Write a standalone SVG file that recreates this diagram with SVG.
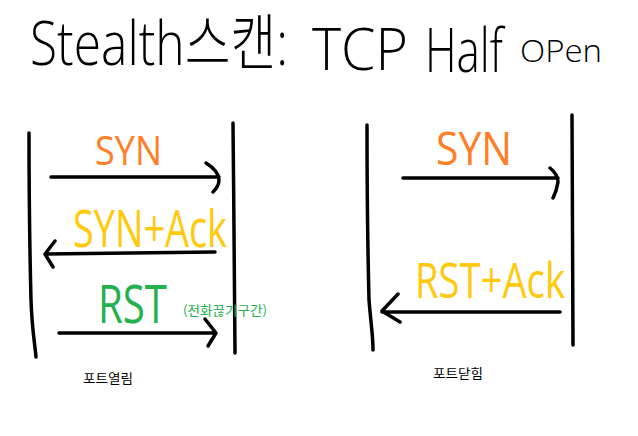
<svg xmlns="http://www.w3.org/2000/svg" width="638" height="436" viewBox="0 0 638 436">
<style>
.t{font-family:"Open Sans","Noto Sans CJK KR",sans-serif;font-weight:300;fill:#000}
.lbl{font-family:"Open Sans","Noto Sans CJK KR",sans-serif;font-weight:400}
.small{font-family:"Noto Sans CJK KR","Noto Sans",sans-serif;font-size:13px}
.ln{fill:none;stroke:#000;stroke-width:3.5;stroke-linecap:round;stroke-linejoin:round}
.org{fill:#FF7F27}.yel{fill:#FFC90E}.grn{fill:#22B14C}
</style>
<rect width="638" height="436" fill="#fff"/>
<g id="title">
<text class="t" transform="translate(30,65) scale(1,1.3)" font-size="47" textLength="258" lengthAdjust="spacingAndGlyphs">Stealth스캔:</text>
<text class="t" transform="translate(312,70) scale(1,1.1)" font-size="53" textLength="96" lengthAdjust="spacingAndGlyphs">TCP</text>
<text class="t" transform="translate(425,72) scale(1,1.5)" font-size="41" textLength="78" lengthAdjust="spacingAndGlyphs">Half</text>
<text class="t" transform="translate(520,62) scale(1,1.05)" font-size="30" textLength="82" lengthAdjust="spacingAndGlyphs">OPen</text>
</g>
<g id="open-client"><path class="ln" d="M29,133 C29,200 30,260 31,300 C32,330 35,345 36,357"/></g>
<g id="open-server"><path class="ln" d="M233,123 C234,200 234,280 235,353"/></g>
<g id="closed-client"><path class="ln" d="M367,125 C367,200 368,260 369,300 C371,325 373,335 373,350"/></g>
<g id="closed-server"><path class="ln" d="M572,115 C572,200 573,280 573,345"/></g>
<g id="connectors">
<path class="ln" d="M51,177 L219,177 M206,163 C214,168 219,174 219,180 C219,185 216,189 213,192"/>
<path class="ln" d="M215,252 L45,254 M55,241 L45,254 L53,267"/>
<path class="ln" d="M59,333 L215,333 M205,319 L216,333 L208,346"/>
<path class="ln" d="M403,178 L558,178 M550,168 C555,172 558,177 558,182 C557,189 555,194 553,198"/>
<path class="ln" d="M560,312 L382,312 M398,294 L382,311 L400,322"/>
</g>
<g id="labels">
<text class="lbl org" transform="translate(95,165) scale(1,1.1)" font-size="36" textLength="67" lengthAdjust="spacingAndGlyphs">SYN</text>
<text class="lbl yel" transform="translate(73,247) scale(1,1.35)" font-size="38" textLength="154" lengthAdjust="spacingAndGlyphs">SYN+Ack</text>
<text class="lbl grn" transform="translate(98,323) scale(1,1.33)" font-size="40" textLength="69" lengthAdjust="spacingAndGlyphs">RST</text>
<text class="small grn" x="183" y="315" textLength="84" lengthAdjust="spacingAndGlyphs">(전화끊기구간)</text>
<text class="lbl org" transform="translate(436,165) scale(1,1.1)" font-size="41" textLength="76" lengthAdjust="spacingAndGlyphs">SYN</text>
<text class="lbl yel" transform="translate(415,298) scale(1,1.3)" font-size="38" textLength="150" lengthAdjust="spacingAndGlyphs">RST+Ack</text>
</g>
<g id="captions">
<text class="small" x="83" y="383" textLength="50" lengthAdjust="spacingAndGlyphs">포트열림</text>
<text class="small" x="433" y="378" textLength="50" lengthAdjust="spacingAndGlyphs">포트닫힘</text>
</g>
</svg>
